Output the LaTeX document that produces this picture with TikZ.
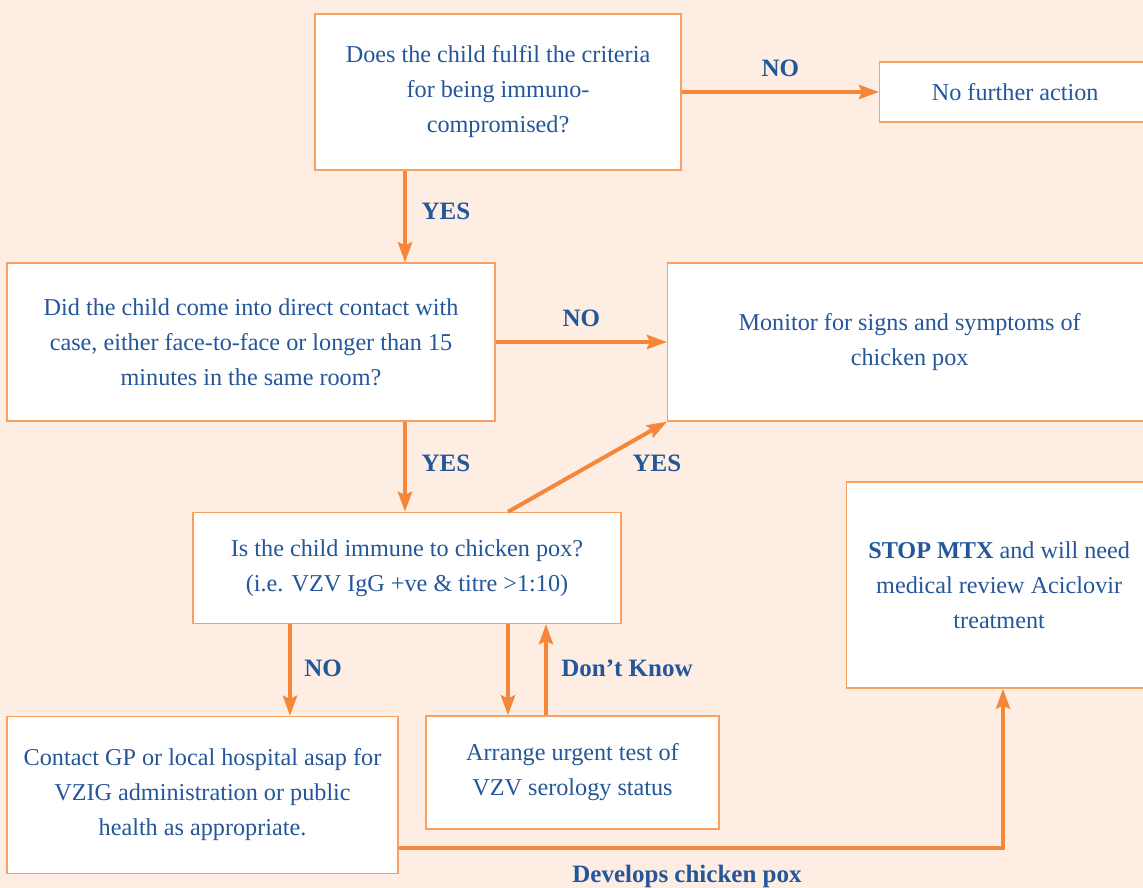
\documentclass[tikz,border=0pt]{standalone}
\usepackage{fontspec}
\setmainfont{Liberation Serif}
\usepackage{xcolor}
\usepackage{tikz}
\usetikzlibrary{arrows.meta, positioning, calc}

\definecolor{peach}{HTML}{FDEDE2}
\definecolor{flow}{HTML}{F5873A}
\definecolor{edge}{HTML}{F7A060}
\definecolor{ink}{HTML}{24569A}

\begin{document}
\begin{tikzpicture}[x=1pt, y=-1pt,
	box/.style={draw=edge, line width=1.3pt, fill=white, text=ink, align=center,
		inner sep=0pt, font=\fontsize{24.2}{35}\selectfont},
	arr/.style={draw=flow, line width=4pt, -{Stealth[length=20pt, width=14pt, inset=3pt]}},
	lbl/.style={text=ink, font=\fontsize{25}{28}\selectfont\bfseries}]

	% background
	\fill[peach] (0,0) rectangle (1143,888);
	\useasboundingbox (0,0) rectangle (1143,888);

	% boxes
	\node[box, minimum width=366pt, minimum height=156pt] (crit) at (498,92)
		{Does the child fulfil the criteria\\ for being immuno-\\ compromised?};
	\node[box, minimum width=271pt, minimum height=60pt, anchor=west] (none) at (879,92)
		{No further action};
	\node[box, minimum width=488pt, minimum height=158pt] (cont) at (251,342)
		{Did the child come into direct contact with\\ case, either face-to-face or longer than 15\\ minutes in the same room?};
	\node[box, minimum width=484pt, minimum height=158pt, anchor=west] (mon) at (667,342)
		{Monitor for signs and symptoms of\\ chicken pox};
	\node[box, minimum width=428pt, minimum height=111pt] (imm) at (407,568)
		{Is the child immune to chicken pox?\\ (i.e. VZV IgG +ve \& titre >1:10)};
	\node[box, minimum width=305pt, minimum height=206pt, anchor=west] (stop) at (846,585)
		{\textbf{STOP MTX} and will need\\ medical review Aciclovir\\ treatment};
	\node[box, minimum width=391pt, minimum height=157pt] (gp) at (202.5,795)
		{Contact GP or local hospital asap for\\ VZIG administration or public\\ health as appropriate.};
	\node[box, minimum width=293pt, minimum height=113pt] (test) at (572.5,772.5)
		{Arrange urgent test of\\ VZV serology status};

	% helper points
	\coordinate (dn) at (508,0);
	\coordinate (up) at (546,0);
	\coordinate (nox) at (290,0);
	\coordinate (yx) at (405,0);
	\coordinate (bend) at (1003,848);

	% connectors
	\draw[arr] (crit.east) -- (none.west) node[lbl, midway, above=10pt] {NO};
	\draw[arr] (crit.south -| yx) -- (cont.north -| yx);
	\node[lbl] (y1) at (446,211) {YES};
	\draw[arr] (cont.east) -- (mon.west) node[lbl, midway, above=10pt] {NO};
	\draw[arr] (cont.south -| yx) -- (imm.north -| yx);
	\node[lbl] (y2) at (446,463) {YES};
	\draw[arr] (imm.north -| dn) -- (mon.south west);
	\node[lbl] (y3) at (657,463) {YES};
	\draw[arr] (imm.south -| nox) -- (gp.north -| nox);
	\node[lbl] (n3) at (323,668) {NO};
	\draw[arr] (imm.south -| dn) -- (test.north -| dn);
	\draw[arr] (test.north -| up) -- (imm.south -| up);
	\node[lbl] (dk) at (627,668) {Don’t Know};
	\draw[arr] (gp.east |- bend) -- (bend) -- (stop.south -| bend);
	\node[lbl] (dev) at (687,876) {Develops chicken pox};
\end{tikzpicture}
\end{document}
